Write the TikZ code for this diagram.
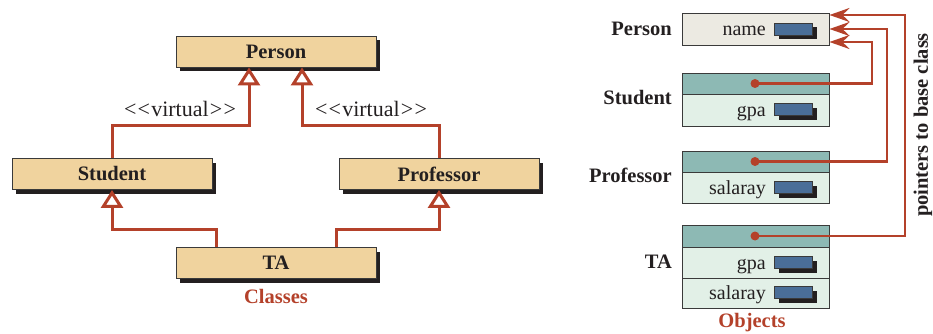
\documentclass[tikz,border=0pt]{standalone}
\usepackage{fontspec}
\setmainfont{Liberation Serif}
\usetikzlibrary{arrows.meta,shadows}

\definecolor{tanc}{HTML}{F0D39E}
\definecolor{redc}{HTML}{B4412A}
\definecolor{shc}{HTML}{231F20}
\definecolor{edgec}{HTML}{3A3A3A}
\definecolor{txtc}{HTML}{231F20}
\definecolor{pgrayc}{HTML}{ECEAE2}
\definecolor{tealc}{HTML}{8DB9B4}
\definecolor{rowc}{HTML}{E2F0E7}
\definecolor{bluec}{HTML}{4A6E98}

\newcommand{\virt}{<\kern1.2pt<\kern1.2pt virtual\kern1.2pt>\kern1.2pt>}

\begin{document}
\begin{tikzpicture}[x=1pt, y=-1pt,
  cls/.style={draw=edgec, line width=0.9pt, fill=tanc, minimum width=200pt,
    minimum height=31pt, inner sep=0pt, text=txtc,
    font=\bfseries\fontsize{20.5}{24}\selectfont,
    drop shadow={shadow xshift=4pt, shadow yshift=-4.5pt, opacity=1, fill=shc}},
  inh/.style={draw=redc, line width=3pt,
    -{Triangle[open, length=18pt, width=22pt, fill=white]}},
  vtxt/.style={text=txtc, inner sep=0pt, font=\fontsize{22}{24}\selectfont},
  lbl/.style={text=txtc, inner sep=0pt, font=\bfseries\fontsize{20.5}{24}\selectfont},
  captxt/.style={text=redc, inner sep=0pt, font=\bfseries\fontsize{20.5}{24}\selectfont},
  obj/.style={draw=edgec, line width=0.9pt, minimum width=147pt, inner sep=0pt},
  hdr/.style={obj, fill=tealc},
  row/.style={obj, fill=rowc},
  field/.style={draw=edgec, line width=0.9pt, fill=bluec, minimum width=38pt,
    minimum height=12pt, inner sep=0pt,
    drop shadow={shadow xshift=4.5pt, shadow yshift=-4.5pt, opacity=1, fill=shc}},
  ftxt/.style={text=txtc, inner sep=0pt, anchor=base east,
    font=\fontsize{20}{24}\selectfont},
  ptr/.style={draw=redc, line width=2.5pt,
    -{Stealth[length=20pt, width=14pt, inset=7pt]}},
]
\useasboundingbox (0,0) rectangle (933,334);

% ---------- class diagram ----------
\node[cls] (person) at (276,51.5) {Person};
\node[cls] (student) at (112,174) {Student};
\node[cls] (prof) at (439,174) {Professor};
\node[cls] (ta) at (276,263) {TA};

\draw[inh] (student.north) -- (112,125) -| ([xshift=-27pt]person.south);
\draw[inh] (prof.north) -- (439,125) -| ([xshift=26pt]person.south);
\draw[inh] ([xshift=-60pt]ta.north) -- (216,229) -| (student.south);
\draw[inh] ([xshift=60pt]ta.north) -- (336,229) -| (prof.south);

\node[vtxt] (virt1) at (180,109) {\virt};
\node[vtxt] (virt2) at (371,109) {\virt};
\node[captxt] (classes) at (276,296) {Classes};

% ---------- object layout ----------
\node[obj, fill=pgrayc, minimum height=32pt] (pobj) at (755.5,29) {};
\node[hdr, minimum height=21pt] (shdr) at (755.5,83.5) {};
\node[row, minimum height=32pt] (srow) at (755.5,110) {};
\node[hdr, minimum height=21pt] (phdr) at (755.5,161.5) {};
\node[row, minimum height=31pt] (prow) at (755.5,187.5) {};
\node[hdr, minimum height=22pt] (thdr) at (755.5,236) {};
\node[row, minimum height=31pt] (tgrow) at (755.5,262.5) {};
\node[row, minimum height=30pt] (tsrow) at (755.5,293) {};

\node[ftxt] (tname) at (766,35.5) {name};
\node[ftxt] (tgpa1) at (766,116.5) {gpa};
\node[ftxt] (tsal1) at (766,194) {salaray};
\node[ftxt] (tgpa2) at (766,269) {gpa};
\node[ftxt] (tsal2) at (766,299.5) {salaray};

\node[field] (fname) at (793,29) {};
\node[field] (fgpa1) at (793,109.5) {};
\node[field] (fsal1) at (793,187) {};
\node[field] (fgpa2) at (793,262) {};
\node[field] (fsal2) at (793,292.5) {};

\node[lbl, anchor=east] (lperson) at (672,29) {Person};
\node[lbl, anchor=east] (lstudent) at (672,98) {Student};
\node[lbl, anchor=east] (lprof) at (672,175) {Professor};
\node[lbl, anchor=east] (lta) at (672,262) {TA};
\node[captxt] (objects) at (752,323) {Objects};

% base-class pointers
\coordinate (sdot) at (755,83.5);
\coordinate (pdot) at (755,161.5);
\coordinate (tdot) at (755,236);
\draw[ptr] (sdot) -- (872,83.5) |- ([yshift=-13pt]pobj.east);
\draw[ptr] (pdot) -- (887,161.5) |- (pobj.east);
\draw[ptr] (tdot) -- (905,236) |- ([yshift=14pt]pobj.east);
\foreach \d in {sdot,pdot,tdot} \fill[redc] (\d) circle (4.5pt);

\node[lbl, rotate=90] (lptr) at (923,125) {pointers to base class};
\end{tikzpicture}
\end{document}
